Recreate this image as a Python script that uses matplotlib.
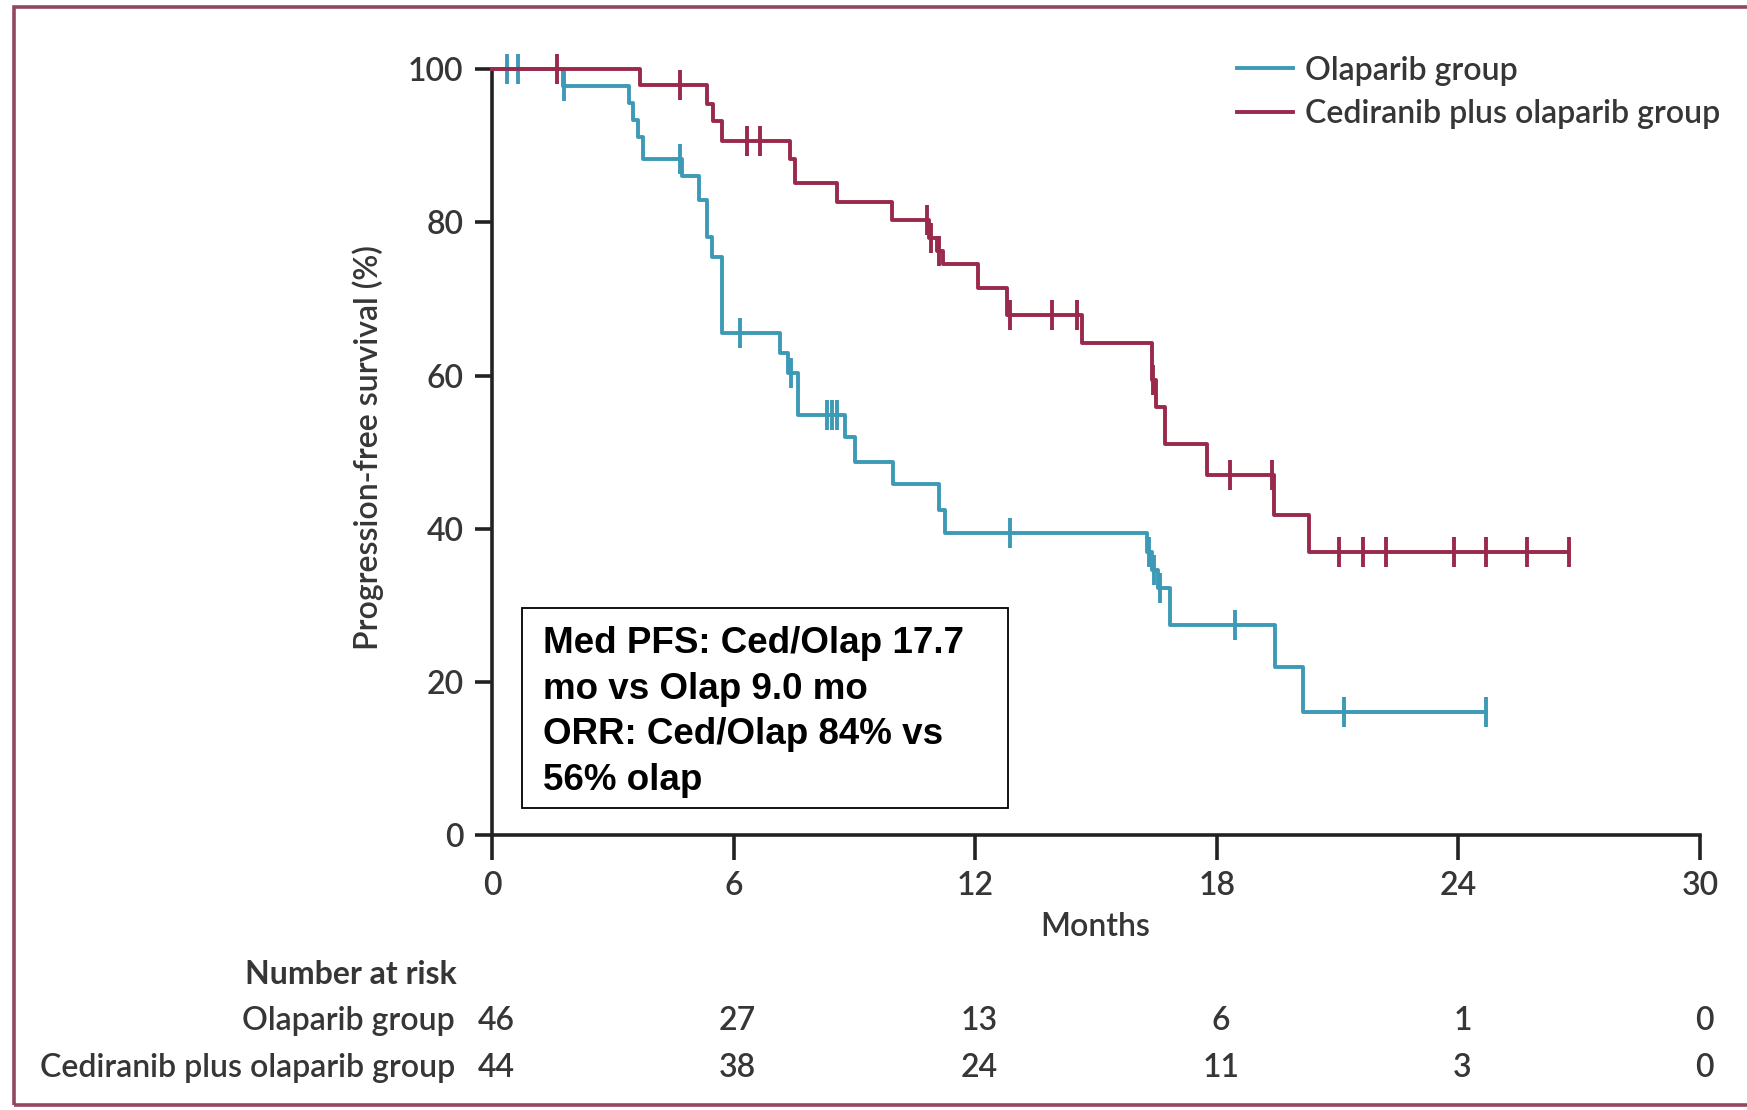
import numpy as np
import matplotlib
matplotlib.use("Agg")
import matplotlib.pyplot as plt
from matplotlib.patches import Rectangle
from matplotlib.lines import Line2D
from matplotlib.transforms import blended_transform_factory

plt.rcParams['font.family'] = ['Lato', 'DejaVu Sans']

# ---------------- data ----------------
months_ticks = [0, 6, 12, 18, 24, 30]
pfs_ticks = [0, 20, 40, 60, 80, 100]

# Olaparib group: event times (months) and survival (%) after each step
olap_t = [0, 1.77, 3.39, 3.50, 3.62, 3.76, 4.72, 5.13, 5.33, 5.46, 5.71, 7.16, 7.36,
          7.61, 8.77, 9.02, 9.97, 11.09, 11.25, 16.27, 16.40, 16.55, 16.84, 19.45,
          20.14, 24.69]
olap_s = [100, 97.8, 95.6, 93.4, 91.1, 88.3, 86.0, 82.9, 78.1, 75.5, 65.5, 62.9, 60.4,
          54.8, 52.0, 48.7, 45.9, 42.4, 39.4, 37.0, 34.6, 32.2, 27.4, 22.0,
          16.0, 16.0]
olap_cens = [0.37, 0.65, 1.80, 4.67, 6.16, 7.42, 8.31, 8.44, 8.56, 12.87, 16.32, 16.45,
             16.60, 18.44, 21.17, 24.69]

# Cediranib plus olaparib group
ced_t = [0, 3.68, 5.33, 5.50, 5.70, 7.40, 7.53, 8.56, 9.93, 10.85, 11.05, 11.21, 12.08,
         12.79, 14.65, 16.39, 16.50, 16.72, 17.76, 19.41, 20.28, 26.74]
ced_s = [100, 97.9, 95.5, 93.2, 90.7, 88.3, 85.1, 82.7, 80.3, 78.0, 76.3, 74.6, 71.5,
         67.9, 64.2, 59.4, 55.9, 51.1, 47.0, 41.8, 37.0, 37.0]
ced_cens = [1.61, 4.67, 6.33, 6.66, 10.80, 10.90, 11.10, 12.87, 13.90, 14.53, 16.42,
            18.32, 19.37, 21.03, 21.62, 22.19, 23.88, 24.69, 25.71, 26.74]

group_labels = ["Olaparib group", "Cediranib plus olaparib group"]
risk_olap = [46, 27, 13, 6, 1, 0]
risk_ced = [44, 38, 24, 11, 3, 0]

annotation = "Med PFS: Ced/Olap 17.7\nmo vs Olap 9.0 mo\nORR: Ced/Olap 84% vs\n56% olap"

# ---------------- styling ----------------
W, H = 1747, 1110
BLUE = '#3d9ab6'
RED = '#9a2a4b'
TXT = '#363636'
FS = 23
FW = 'semibold'
LW = 2.8

fig = plt.figure(figsize=(W / 100, H / 100), dpi=100)
fig.patch.set_facecolor('white')

def fx(px):
    return px / W

def fy(py):
    return (H - py) / H

ax = fig.add_axes([fx(492), fy(835), fx(1700) - fx(492), fy(69.3) - fy(835)])
ax.set_xlim(0, 30)
ax.set_ylim(0, 100)

def step_value(t, s, x):
    idx = np.searchsorted(np.asarray(t), x, side='right') - 1
    return np.asarray(s)[idx]

for t, s, c, col in [(olap_t, olap_s, olap_cens, BLUE), (ced_t, ced_s, ced_cens, RED)]:
    ax.step(t, s, where='post', color=col, lw=LW, clip_on=False, zorder=3)
    ax.plot(c, step_value(t, s, c), linestyle='none', marker='|', ms=22, mew=LW,
            color=col, clip_on=False, zorder=3)

for side in ['top', 'right']:
    ax.spines[side].set_visible(False)
for side in ['left', 'bottom']:
    ax.spines[side].set_linewidth(2.6)
    ax.spines[side].set_color('#222222')

ax.set_xticks(months_ticks)
ax.set_yticks(pfs_ticks)
ax.tick_params(axis='x', length=18, width=2.6, pad=8, labelsize=FS, colors='#222222',
               labelcolor=TXT)
ax.tick_params(axis='y', length=12, width=2.6, pad=8.5, labelsize=FS, colors='#222222',
               labelcolor=TXT)
for lab in ax.get_xticklabels() + ax.get_yticklabels():
    lab.set_fontweight(FW)

fig.text(fx(1095), fy(927), "Months", ha='center', va='center', fontsize=FS, color=TXT,
         fontweight=FW)
fig.text(fx(368), fy(447), "Progression-free survival (%)", rotation=90, ha='center',
         va='center', fontsize=FS, color=TXT, fontweight=FW)

# legend
handles = [Line2D([], [], color=BLUE, lw=2.8), Line2D([], [], color=RED, lw=2.8)]
leg = ax.legend(handles, group_labels, loc='upper left',
                bbox_to_anchor=(fx(1237), fy(55.5)), bbox_transform=fig.transFigure,
                frameon=False, fontsize=FS, handlelength=1.76, handletextpad=0.38,
                labelspacing=0.42, borderpad=0, borderaxespad=0)
for txt in leg.get_texts():
    txt.set_color(TXT)
    txt.set_fontweight(FW)

# annotation box
ax.add_patch(Rectangle((fx(522.3), fy(808.3)), fx(1007.7) - fx(522.3), fy(608.3) - fy(808.3),
                       transform=fig.transFigure, facecolor='white', edgecolor='black',
                       lw=1.3, zorder=4))
fig.text(fx(543.3), fy(626), annotation, ha='left', va='top', fontsize=26.5,
         fontweight='bold', family=['Liberation Sans', 'DejaVu Sans'], color='black',
         linespacing=1.395, zorder=5)

# number at risk
fig.text(fx(457), fy(974), "Number at risk", ha='right', va='center', fontsize=FS,
         fontweight='bold', color=TXT)
trans = blended_transform_factory(ax.transData, fig.transFigure)
for label, risks, ypx in [(group_labels[0], risk_olap, 1021), (group_labels[1], risk_ced, 1068)]:
    fig.text(fx(455), fy(ypx), label, ha='right', va='center', fontsize=FS, color=TXT,
             fontweight=FW)
    for m, r in zip(months_ticks, risks):
        ax.text(m + 0.1, fy(ypx), str(r), transform=trans, ha='center', va='center',
                fontsize=FS, color=TXT, clip_on=False, fontweight=FW)

# outer frame
fig.patches.append(Rectangle((fx(14), fy(1105)), fx(1800) - fx(14), fy(7) - fy(1105),
                             transform=fig.transFigure, fill=False, edgecolor='#93475f',
                             lw=2.6, figure=fig))

fig.savefig('out.png', dpi=100, facecolor='white')
